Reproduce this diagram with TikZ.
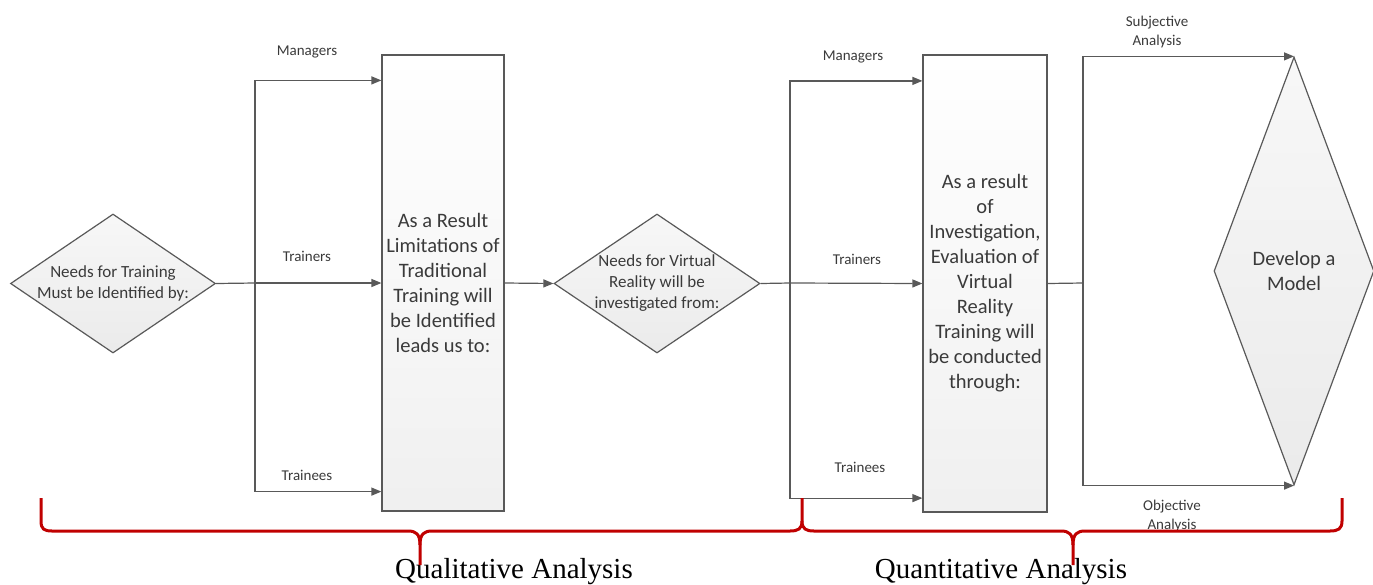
\documentclass[tikz,border=0pt]{standalone}
\usepackage{fontspec}
\setmainfont{Liberation Serif}
\newfontfamily\calibri{Carlito}
\usetikzlibrary{shapes.geometric,arrows.meta}
\definecolor{linegray}{HTML}{595959}
\definecolor{textgray}{HTML}{3A3A3A}
\definecolor{bracered}{HTML}{C00000}
\begin{document}
\begin{tikzpicture}[x=1pt,y=-1pt,
  line/.style={draw=linegray,line width=1.2pt},
  arr/.style={line,-{Triangle[length=10pt,width=8pt]}},
  stagebox/.style={draw=linegray,line width=1.2pt,top color=white,bottom color=black!6,
    inner sep=0pt,align=center,text=textgray,
    font=\calibri\fontsize{20.5}{25}\selectfont},
  decision/.style={diamond,draw=linegray,line width=1.2pt,top color=black!3,bottom color=black!8,
    inner sep=0pt},
  dtext/.style={inner sep=0pt,align=center,text=textgray,
    font=\calibri\fontsize{17}{21}\selectfont},
  lbl/.style={font=\calibri\fontsize{15}{19}\selectfont,text=textgray,align=center,inner sep=0pt},
  brace/.style={draw=bracered,line width=3pt,line join=round},
  caption/.style={font=\fontsize{29}{33}\selectfont,anchor=base,inner sep=0pt}]
\useasboundingbox (0,0) rectangle (1373,584);

% decisions (outline first, wording laid on top)
\node[decision,minimum width=205pt,minimum height=139pt] (d1) at (113,283.5) {};
\node[dtext] (t1) at (d1.center) {Needs for Training\\Must be Identified by:};
\node[decision,minimum width=206pt,minimum height=139pt] (d2) at (657,283.5) {};
\node[dtext] (t2) at (d2.center) {Needs for Virtual\\Reality will be\\investigated from:};
\node[decision,minimum width=160pt,minimum height=428pt] (d3) at (1294,271) {};
\node[dtext,font=\calibri\fontsize{20.5}{25}\selectfont] (t3) at (d3.center) {Develop a\\Model};

% process boxes
\node[stagebox,minimum width=122pt,minimum height=456pt] (b1) at (443,283)
  {As a Result\\Limitations of\\Traditional\\Training will\\be Identified\\leads us to:};
\node[stagebox,minimum width=124pt,minimum height=457pt] (b2) at (985,283.5)
  {As a result\\of\\Investigation,\\Evaluation of\\Virtual\\Reality\\Training will\\be conducted\\through:};

% branch points
\coordinate (j1) at (255,283);
\coordinate (j2) at (790,283);
\coordinate (j3) at (1083,283);

% first stage
\draw[line] (d1.east) -- (j1);
\draw[arr] (j1) -- (b1.west);
\draw[arr] (j1) |- ([yshift=-26pt]b1.north west);
\draw[arr] (j1) |- ([yshift=20pt]b1.south west);
\draw[arr] (b1.east) -- (d2.west);

% second stage
\draw[line] (d2.east) -- (j2);
\draw[arr] (j2) -- (b2.west);
\draw[arr] (j2) |- ([yshift=-26.5pt]b2.north west);
\draw[arr] (j2) |- ([yshift=14.5pt]b2.south west);
\draw[line] (b2.east) -- (j3);
\draw[arr] (j3) |- (d3.north);
\draw[arr] (j3) |- (d3.south);

% connector labels
\node[lbl] (lm1) at (307,52) {Managers};
\node[lbl] (lt1) at (307,256) {Trainers};
\node[lbl] (le1) at (307,475) {Trainees};
\node[lbl] (lm2) at (853,57) {Managers};
\node[lbl] (lt2) at (857,259) {Trainers};
\node[lbl] (le2) at (860,467) {Trainees};
\node[lbl] (ls) at (1157,32) {Subjective\\Analysis};
\node[lbl] (lo) at (1172,516) {Objective\\Analysis};

% phase captions
\node[caption] (qual) at (514,578) {Qualitative Analysis};
\node[caption] (quan) at (1001,578) {Quantitative Analysis};

% phase braces
\draw[brace] (41,498) -- (41,521) .. controls (41,529) and (44,531) .. (52,531) -- (408,531)
  .. controls (416,531) and (420,534) .. (420,545) -- (420,565);
\draw[brace] (420,545) .. controls (420,534) and (424,531) .. (432,531) -- (790,531)
  .. controls (798,531) and (802,529) .. (802,521) -- (802,498);
\draw[brace] (802,521) .. controls (802,529) and (806,531) .. (814,531) -- (1061,531)
  .. controls (1069,531) and (1073,534) .. (1073,545) -- (1073,565);
\draw[brace] (1073,545) .. controls (1073,534) and (1077,531) .. (1085,531) -- (1330,531)
  .. controls (1338,531) and (1342,529) .. (1342,521) -- (1342,498);
\end{tikzpicture}
\end{document}
